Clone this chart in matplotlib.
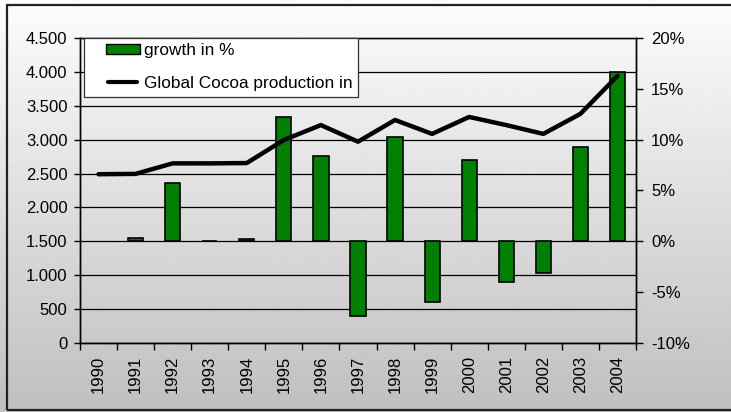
import numpy as np
import matplotlib
matplotlib.use("Agg")
from matplotlib import pyplot as plt
from matplotlib.ticker import FuncFormatter, FixedLocator, MultipleLocator
from matplotlib.patches import Rectangle
from matplotlib.lines import Line2D

plt.rcParams['font.family'] = ['Liberation Sans', 'DejaVu Sans']
plt.rcParams['font.size'] = 12

years = [str(y) for y in range(1990, 2005)]
# global production, left axis (thousand tonnes)
production = [2490, 2495, 2650, 2650, 2655, 2995, 3215, 2970, 3290, 3085, 3335, 3215, 3085, 3380, 3940]
# growth vs previous year, right axis (%)
growth = [np.nan, 0.35, 5.7, 0.05, 0.2, 12.2, 8.4, -7.3, 10.3, -6.0, 8.0, -4.0, -3.15, 9.3, 16.7]


class OffsetHandle:
    # legend handle drawn with a gap on its left, like the excel legend
    def __init__(self, kind, gap=12):
        self.kind = kind
        self.gap = gap

    def legend_artist(self, legend, orig_handle, fontsize, handlebox):
        x0, y0 = -handlebox.xdescent, -handlebox.ydescent
        w, h = handlebox.width, handlebox.height
        if self.kind == 'patch':
            art = Rectangle((x0 + self.gap, y0 + h / 2 - 3.8), w - self.gap, 7.6,
                            facecolor='#008000', edgecolor='black', linewidth=1,
                            transform=handlebox.get_transform())
        else:
            art = Line2D([x0 + self.gap + 1.5, x0 + w - 1.5], [y0 + h / 2] * 2, color='black',
                         linewidth=3, solid_capstyle='round',
                         transform=handlebox.get_transform())
        handlebox.add_artist(art)
        return art


fig = plt.figure(figsize=(7.31, 4.12), dpi=100)

# grey gradient background with a black frame
bg = fig.add_axes([0, 0, 1, 1], zorder=-10)
grad = np.linspace(0.99, 0.75, 256).reshape(-1, 1)
bg.imshow(grad, aspect='auto', cmap='gray', vmin=0, vmax=1, extent=[0, 1, 0, 1])
bg.add_patch(Rectangle((0.009, 0.006), 1.0, 0.983, fill=False,
                       edgecolor='#222222', linewidth=1.6, transform=bg.transAxes))
bg.set_xlim(0, 1)
bg.set_ylim(0, 1)
bg.set_axis_off()

x = np.arange(len(years))

ax = fig.add_axes([0.1094, 0.1675, 0.7606, 0.7403])
ax.patch.set_visible(False)
ax.set_xlim(-0.5, len(years) - 0.5)
ax.set_ylim(0, 4500)
ax.yaxis.set_major_locator(MultipleLocator(500))
ax.yaxis.set_major_formatter(FuncFormatter(lambda v, p: f"{int(v):,}".replace(",", ".")))
ax.grid(axis='y', color='black', linewidth=0.9)
ax.set_axisbelow(True)
ax.xaxis.set_major_locator(FixedLocator(x))
ax.set_xticklabels(years, rotation=90)
ax.xaxis.set_minor_locator(FixedLocator(np.arange(-0.5, len(years), 1)))
ax.tick_params(axis='x', which='major', length=0, pad=9)
ax.tick_params(axis='x', which='minor', length=5, width=1, direction='out')
ax.tick_params(axis='y', length=4, width=1, direction='out', pad=5)
ax.spines['top'].set_color('#808080')
ax.get_ygridlines()[-1].set_color('#808080')

ax2 = ax.twinx()
ax2.patch.set_visible(False)
ax2.set_ylim(-10, 20)
ax2.yaxis.set_major_locator(MultipleLocator(5))
ax2.yaxis.set_major_formatter(FuncFormatter(lambda v, p: f"{int(v)}%"))
ax2.tick_params(axis='y', length=5, width=1, direction='out', pad=6)
bars = ax2.bar(x, growth, width=0.41, color='#008000', edgecolor='black', linewidth=1.2,
               label='growth in %')

ax3 = ax.twinx()
ax3.patch.set_visible(False)
ax3.set_ylim(ax.get_ylim())
ax3.set_yticks([])
for s in ax3.spines.values():
    s.set_visible(False)
line, = ax3.plot(x, production, color='black', linewidth=3.2, solid_capstyle='round',
                 label='Global Cocoa production in')

for a in (ax, ax2):
    for s in a.spines.values():
        s.set_linewidth(1)

leg = ax3.legend(handles=[bars, line], loc='upper left', bbox_to_anchor=(0.008, 1.0),
                 borderaxespad=0, fancybox=False, framealpha=1, edgecolor='#333333',
                 handlelength=2.9, handleheight=0.7, labelspacing=1.05, borderpad=0.3,
                 handletextpad=0.25, fontsize=12.4,
                 handler_map={bars: OffsetHandle('patch'), line: OffsetHandle('line')})
leg.get_frame().set_linewidth(0.9)

fig.savefig('out.png', dpi=100)
